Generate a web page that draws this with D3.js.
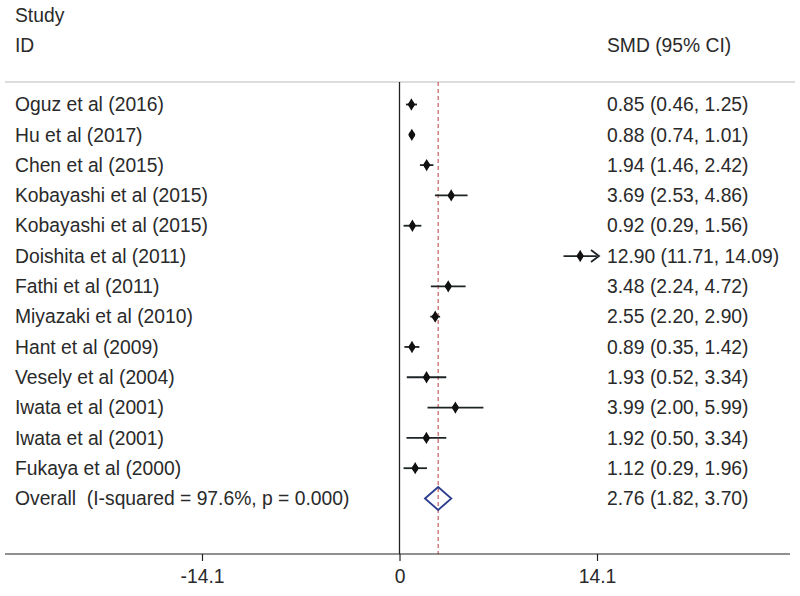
<!DOCTYPE html>
<html><head><meta charset="utf-8">
<script src="https://cdn.jsdelivr.net/npm/d3@7"></script>
<style>
html,body{margin:0;padding:0;background:#fff;}
svg{display:block;}
text{font-family:"Liberation Sans",Arial,sans-serif;fill:#2a2a2a;}
</style></head>
<body>
<svg id="chart" width="800" height="596"></svg>
<script>
const studies = ["Oguz et al (2016)","Hu et al (2017)","Chen et al (2015)","Kobayashi et al (2015)","Kobayashi et al (2015)","Doishita et al (2011)","Fathi et al (2011)","Miyazaki et al (2010)","Hant et al (2009)","Vesely et al (2004)","Iwata et al (2001)","Iwata et al (2001)","Fukaya et al (2000)"];
const smd   = [0.85,0.88,1.94,3.69,0.92,12.90,3.48,2.55,0.89,1.93,3.99,1.92,1.12];
const lower = [0.46,0.74,1.46,2.53,0.29,11.71,2.24,2.20,0.35,0.52,2.00,0.50,0.29];
const upper = [1.25,1.01,2.42,4.86,1.56,14.09,4.72,2.90,1.42,3.34,5.99,3.34,1.96];
const overallLabel = "Overall  (I-squared = 97.6%, p = 0.000)";
const overall = {est:2.76, lo:1.82, hi:3.70};
const tickValues = [-14.1, 0, 14.1];
const tickLabels = ["-14.1","0","14.1"];
const axisMax = 14.1;

const svg = d3.select("#chart");
const x = d3.scaleLinear().domain([-14.1, 14.1]).range([202, 597]);
const nRows = studies.length + 1;
const y = d3.scaleLinear().domain([0, nRows - 1]).range([104.5, 498.5]);
const fmt = d3.format(".2f");
const fs = 19.3;

// header
svg.append("text").attr("x",15).attr("y",15).attr("dy","0.35em").attr("font-size",fs).text("Study");
svg.append("text").attr("x",15).attr("y",45).attr("dy","0.35em").attr("font-size",fs).text("ID");
svg.append("text").attr("x",607).attr("y",45).attr("dy","0.35em").attr("font-size",fs).text("SMD (95% CI)");

// top rule
svg.append("line").attr("x1",5).attr("x2",795).attr("y1",82).attr("y2",82)
  .attr("stroke","#b8bcc0").attr("stroke-width",1.2);

const axisY = 554;

// zero line
svg.append("line").attr("x1",x(0)).attr("x2",x(0)).attr("y1",82).attr("y2",axisY)
  .attr("stroke","#222").attr("stroke-width",1.3);
// overall dashed line
svg.append("line").attr("x1",x(overall.est)).attr("x2",x(overall.est)).attr("y1",82).attr("y2",axisY)
  .attr("stroke","#c2524f").attr("stroke-width",1.1).attr("stroke-dasharray","4,3");

// rows
const rows = studies.map((s,i)=>({name:s, est:smd[i], lo:lower[i], hi:upper[i], i:i}));
const g = svg.append("g");
rows.forEach(d=>{
  const yy = y(d.i);
  const arrow = d.hi > axisMax - 0.05;
  g.append("line").attr("x1",x(d.lo)).attr("x2",x(Math.min(d.hi,axisMax))).attr("y1",yy).attr("y2",yy)
    .attr("stroke","#1c2426").attr("stroke-width",1.8);
  if (arrow) {
    const xe = x(axisMax) + 2;
    g.append("path").attr("d",`M${xe-8},${yy-6}L${xe},${yy}L${xe-8},${yy+6}`)
      .attr("fill","none").attr("stroke","#1c2426").attr("stroke-width",1.8);
  }
  g.append("path").attr("d", d3.symbol().type(d3.symbolDiamond).size(44)())
    .attr("transform",`translate(${x(d.est)},${yy})`).attr("fill","#111");
  g.append("circle").attr("cx",x(d.est)).attr("cy",yy).attr("r",3).attr("fill","#111");
  g.append("text").attr("x",15).attr("y",yy).attr("dy","0.35em").attr("font-size",fs).text(d.name);
  g.append("text").attr("x",607).attr("y",yy).attr("dy","0.35em").attr("font-size",fs)
    .text(`${fmt(d.est)} (${fmt(d.lo)}, ${fmt(d.hi)})`);
});

// overall
const oy = y(nRows-1);
svg.append("path")
  .attr("d",`M${x(overall.lo)},${oy}L${x(overall.est)},${oy-11.5}L${x(overall.hi)},${oy}L${x(overall.est)},${oy+11.5}Z`)
  .attr("fill","none").attr("stroke","#2c3d8f").attr("stroke-width",1.8);
svg.append("text").attr("x",15).attr("y",oy).attr("dy","0.35em").attr("font-size",fs)
  .style("white-space","pre").text(overallLabel);
svg.append("text").attr("x",607).attr("y",oy).attr("dy","0.35em").attr("font-size",fs)
  .text(`${fmt(overall.est)} (${fmt(overall.lo)}, ${fmt(overall.hi)})`);

// axis
svg.append("line").attr("x1",5).attr("x2",790).attr("y1",axisY).attr("y2",axisY)
  .attr("stroke","#222").attr("stroke-width",1.2);
const axis = d3.axisBottom(x).tickValues(tickValues).tickFormat((d,i)=>tickLabels[i]).tickSize(7).tickPadding(8);
const ag = svg.append("g").attr("transform",`translate(0,${axisY})`).call(axis);
ag.select(".domain").remove();
ag.selectAll(".tick line").attr("stroke","#222").attr("stroke-width",1.2);
ag.selectAll(".tick text").attr("font-size",fs).attr("fill","#2a2a2a")
  .attr("font-family","'Liberation Sans',Arial,sans-serif");
</script>
</body></html>
